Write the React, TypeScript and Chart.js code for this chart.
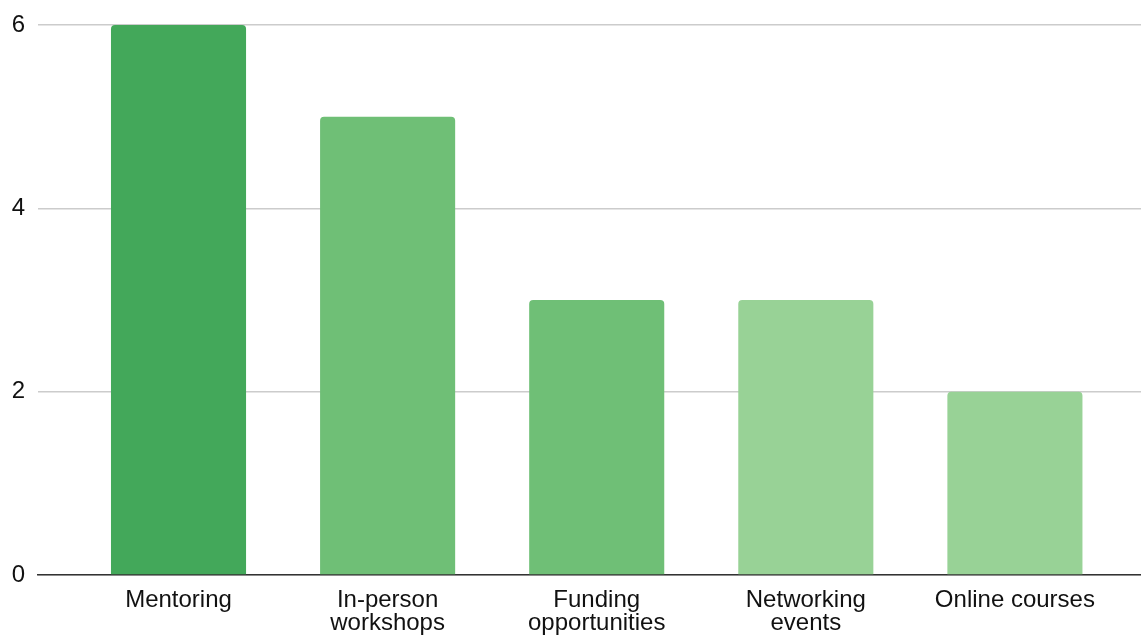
import React, { useEffect, useRef } from "react";
import { Chart, registerables } from "chart.js";

Chart.register(...registerables);

const categories: string[][] = [
  ["Mentoring"],
  ["In-person", "workshops"],
  ["Funding", "opportunities"],
  ["Networking", "events"],
  ["Online courses"],
];
const counts: number[] = [6, 5, 3, 3, 2];
const barColors: string[] = ["#43a85a", "#6fbf76", "#6fbf76", "#98d296", "#98d296"];
const yTicks: number[] = [0, 2, 4, 6];

const FONT = "'Liberation Sans', Arial, sans-serif";

export default function App() {
  const canvasRef = useRef<HTMLCanvasElement | null>(null);

  useEffect(() => {
    const canvas = canvasRef.current;
    if (!canvas) return;
    const chart = new Chart(canvas, {
      type: "bar",
      data: {
        datasets: [
          {
            data: counts.map((v, i) => ({ x: i, y: v })),
            backgroundColor: barColors,
            borderRadius: { topLeft: 4, topRight: 4, bottomLeft: 0, bottomRight: 0 },
            borderSkipped: "bottom",
            categoryPercentage: 1,
            barPercentage: 0.646,
          },
        ],
      },
      options: {
        animation: false,
        responsive: false,
        maintainAspectRatio: false,
        layout: { padding: { top: 24, right: 0, bottom: 0, left: 0 } },
        plugins: { legend: { display: false }, tooltip: { enabled: false } },
        scales: {
          x: {
            type: "linear",
            offset: false,
            min: -0.672,
            max: 4.603,
            afterBuildTicks: (scale: any) => {
              scale.ticks = categories.map((_, i) => ({ value: i }));
            },
            afterFit: (scale: any) => {
              scale.height = 85;
            },
            grid: { display: false, drawTicks: false, offset: false },
            border: { display: true, color: "#333333", width: 1.5 },
            ticks: {
              autoSkip: false,
              maxRotation: 0,
              minRotation: 0,
              padding: 14,
              color: "#111111",
              font: { family: FONT, size: 24, lineHeight: 0.96 },
              callback: (value: any) => categories[Math.round(Number(value))] ?? "",
            },
          },
          y: {
            min: 0,
            max: 6,
            afterBuildTicks: (scale: any) => {
              scale.ticks = yTicks.map((v) => ({ value: v }));
            },
            afterFit: (scale: any) => {
              scale.width = 38;
            },
            grid: { color: "#cccccc", lineWidth: 1.5, drawTicks: false },
            border: { display: false },
            ticks: {
              padding: 13,
              color: "#111111",
              font: { family: FONT, size: 24, lineHeight: 1 },
            },
          },
        },
      },
    });
    return () => chart.destroy();
  }, []);

  return (
    <div style={{ position: "absolute", left: 0, top: 0, width: 1141, height: 660 }}>
      <canvas ref={canvasRef} width={1141} height={660} style={{ display: "block" }} />
    </div>
  );
}
